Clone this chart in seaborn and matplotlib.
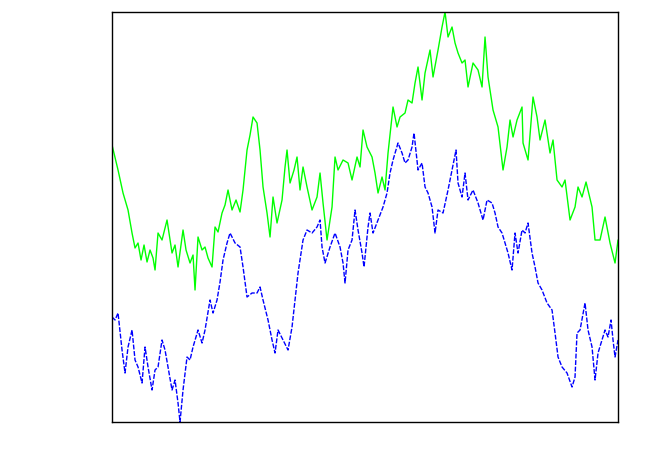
import matplotlib
matplotlib.use("Agg")
import matplotlib.pyplot as plt
import pandas as pd
import seaborn as sns

# values (arbitrary units, x = step, y = level)
green_t = [0, 6, 11, 16, 20, 23, 26, 29, 32, 35, 38, 41, 43, 46, 50, 55, 60, 63, 66, 71,
           74, 78, 81, 83, 86, 90, 93, 96, 100, 103, 106, 110, 113, 116, 120, 124, 128, 131, 135, 138,
           141, 145, 148, 151, 155, 158, 161, 165, 170, 173, 175, 178, 182, 185, 188, 191, 195, 200, 205, 208,
           211, 215, 220, 223, 226, 231, 236, 240, 245, 248, 251, 255, 260, 263, 266, 270, 273, 276, 281, 285,
           288, 293, 296, 300, 303, 306, 310, 313, 318, 321, 326, 330, 333, 336, 340, 343, 346, 350, 353, 356,
           361, 366, 370, 373, 376, 381, 386, 391, 395, 398, 401, 405, 410, 411, 416, 421, 425, 428, 433, 438,
           441, 445, 450, 453, 458, 463, 466, 470, 474, 480, 483, 488, 493, 498, 503, 506]
green_v = [277, 252, 229, 212, 189, 174, 179, 162, 177, 160, 172, 164, 152, 189, 182, 202, 169, 177, 155, 192,
           172, 159, 167, 132, 185, 172, 175, 164, 155, 195, 190, 209, 217, 232, 212, 222, 210, 232, 272, 287,
           305, 299, 272, 235, 209, 185, 225, 199, 222, 255, 272, 239, 252, 265, 232, 255, 235, 212, 225, 249,
           219, 182, 215, 265, 252, 262, 259, 242, 265, 255, 292, 275, 265, 249, 229, 245, 232, 269, 315, 295,
           305, 309, 322, 319, 339, 355, 322, 349, 372, 345, 372, 395, 410, 385, 395, 379, 369, 359, 362, 335,
           359, 352, 335, 385, 345, 312, 295, 252, 275, 302, 285, 302, 315, 279, 262, 325, 305, 282, 302, 269,
           282, 242, 235, 242, 202, 215, 235, 225, 240, 215, 182, 182, 205, 179, 159, 182]

blue_t = [0, 3, 6, 10, 13, 16, 20, 23, 26, 30, 33, 36, 40, 43, 46, 50, 53, 56, 60, 63,
          66, 68, 71, 75, 78, 81, 86, 90, 93, 98, 101, 105, 108, 111, 115, 118, 123, 128, 131, 135,
          140, 145, 148, 151, 156, 160, 163, 166, 171, 176, 180, 183, 186, 191, 195, 200, 205, 208, 210, 213,
          218, 223, 228, 231, 233, 236, 240, 243, 246, 250, 252, 256, 258, 261, 266, 271, 275, 278, 281, 286,
          290, 293, 296, 300, 302, 306, 310, 313, 316, 320, 323, 326, 331, 336, 340, 344, 346, 350, 353, 356,
          361, 366, 371, 375, 380, 383, 386, 390, 393, 396, 400, 403, 406, 410, 413, 416, 420, 423, 426, 430,
          435, 440, 443, 446, 450, 455, 460, 463, 465, 468, 473, 476, 480, 483, 486, 490, 493, 496, 499, 501,
          503, 506]
blue_v = [105, 102, 109, 72, 49, 75, 92, 62, 55, 39, 75, 55, 32, 52, 55, 82, 72, 55, 32, 42,
          19, 0, 32, 65, 62, 75, 92, 79, 92, 122, 109, 122, 140, 162, 179, 189, 179, 175, 155, 125,
          129, 129, 135, 122, 102, 82, 69, 92, 82, 72, 95, 122, 149, 182, 192, 189, 195, 202, 175, 159,
          175, 189, 175, 159, 139, 172, 182, 212, 192, 169, 155, 195, 209, 189, 202, 215, 229, 249, 262, 279,
          269, 259, 262, 275, 289, 252, 259, 235, 229, 215, 189, 212, 209, 232, 252, 272, 239, 225, 249, 222,
          232, 219, 202, 222, 219, 209, 195, 189, 179, 169, 152, 189, 169, 192, 189, 199, 169, 155, 139, 132,
          119, 112, 89, 65, 55, 49, 35, 45, 89, 92, 119, 92, 75, 42, 69, 82, 92, 85, 102, 82,
          65, 82]

green = pd.DataFrame({"t": green_t, "v": green_v})
blue = pd.DataFrame({"t": blue_t, "v": blue_v})

sns.set_style("white")
fig = plt.figure(figsize=(6.54, 4.58), dpi=100)
ax = fig.add_axes([0.1713, 0.0786, 0.7737, 0.8952])

sns.lineplot(data=green, x="t", y="v", ax=ax, color="#00ff00", lw=1.0, estimator=None, sort=False)
sns.lineplot(data=blue, x="t", y="v", ax=ax, color="#0000ff", lw=1.0, estimator=None, sort=False,
             linestyle=(0, (3.5, 1.2)))

ax.set_xlim(min(green_t), max(green_t))
ax.set_ylim(min(blue_v), max(green_v))
ax.set_xticks([])
ax.set_yticks([])
ax.set_xlabel("")
ax.set_ylabel("")
for s in ax.spines.values():
    s.set_color("black")
    s.set_linewidth(1.0)

fig.savefig("out.png", dpi=100)
